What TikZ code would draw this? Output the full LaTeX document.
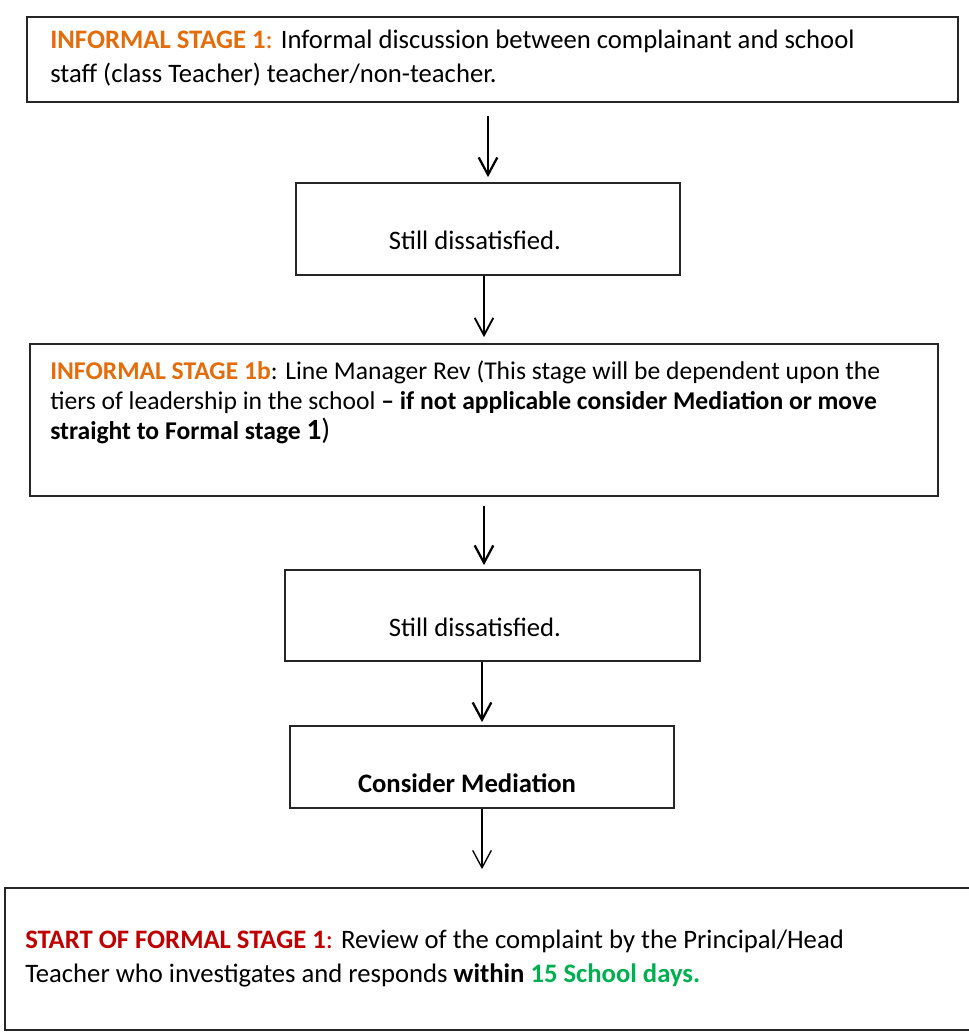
\documentclass[tikz,border=0pt]{standalone}
\usepackage{fontspec}
\setmainfont{Carlito}
\usepackage{xcolor}
\definecolor{naranja}{RGB}{228,108,10}
\definecolor{rojo}{RGB}{192,0,0}
\definecolor{verde}{RGB}{0,176,80}
\usetikzlibrary{arrows.meta, positioning, fit}

\begin{document}
\begin{tikzpicture}[x=0.75pt, y=-0.75pt,
    caja/.style={draw=black!85, line width=1.3pt, inner sep=0pt},
    texto/.style={anchor=west, align=left, inner sep=0pt, font=\fontsize{20}{25.5}\selectfont},
    flecha/.style={-{Straight Barb[length=13pt, width=14pt]}, line width=1.4pt}]
  \useasboundingbox (0,0) rectangle (968,1032);

  % Cajas
  \node[caja, fit={(27,17) (958,102)}] (c1) {};
  \node[caja, fit={(296,183) (680,275)}] (c2) {};
  \node[caja, fit={(30,344) (938,496)}] (c3) {};
  \node[caja, fit={(285,570) (700,661)}] (c4) {};
  \node[caja, fit={(290,726) (674,808)}] (c5) {};
  \node[caja, fit={(5,888) (980,1030)}] (c6) {};

  % Textos
  \node[texto] (t1) at (50,58) {\textcolor{naranja}{\textbf{INFORMAL STAGE 1}:} Informal discussion between complainant and school\\
    staff (class Teacher) teacher/non-teacher.};
  \node[texto, anchor=center] (t2) at (475,240) {Still dissatisfied.};
  \node[texto, font=\fontsize{19.2}{22.5}\selectfont] (t3) at (50,402) {\textcolor{naranja}{\textbf{INFORMAL STAGE 1b}}: Line Manager Rev (This stage will be dependent upon the\\
    tiers of leadership in the school \textbf{-- if not applicable consider Mediation or move}\\
    \textbf{straight to Formal stage {\fontsize{22}{22.5}\selectfont 1}}{\fontsize{22}{22.5}\selectfont)}};
  \node[texto, anchor=center] (t4) at (475,627) {Still dissatisfied.};
  \node[texto, anchor=center] (t5) at (467,783) {\textbf{Consider Mediation}};
  \node[texto] (t6) at (25,959) {\textcolor{rojo}{\textbf{START OF FORMAL STAGE 1}:} Review of the complaint by the Principal/Head\\
    Teacher who investigates and responds \textbf{within \textcolor{verde}{15 School days.}}};

  % Flechas
  \draw[flecha, line width=1.7pt, shorten <=9.75pt, shorten >=3.75pt] (c2.north |- c1.south) -- (c2.north);
  \draw[flecha, shorten >=4.5pt] (c3.north |- c2.south) -- (c3.north);
  \draw[flecha, line width=1.7pt, shorten <=6.75pt, shorten >=3pt] (c3.south) -- (c3.south |- c4.north);
  \draw[flecha, line width=1.7pt, shorten >=2.25pt] (c5.north |- c4.south) -- (c5.north);
  \draw[flecha, line width=1pt, shorten >=13.5pt] (c5.south) -- (c5.south |- c6.north);
\end{tikzpicture}
\end{document}
